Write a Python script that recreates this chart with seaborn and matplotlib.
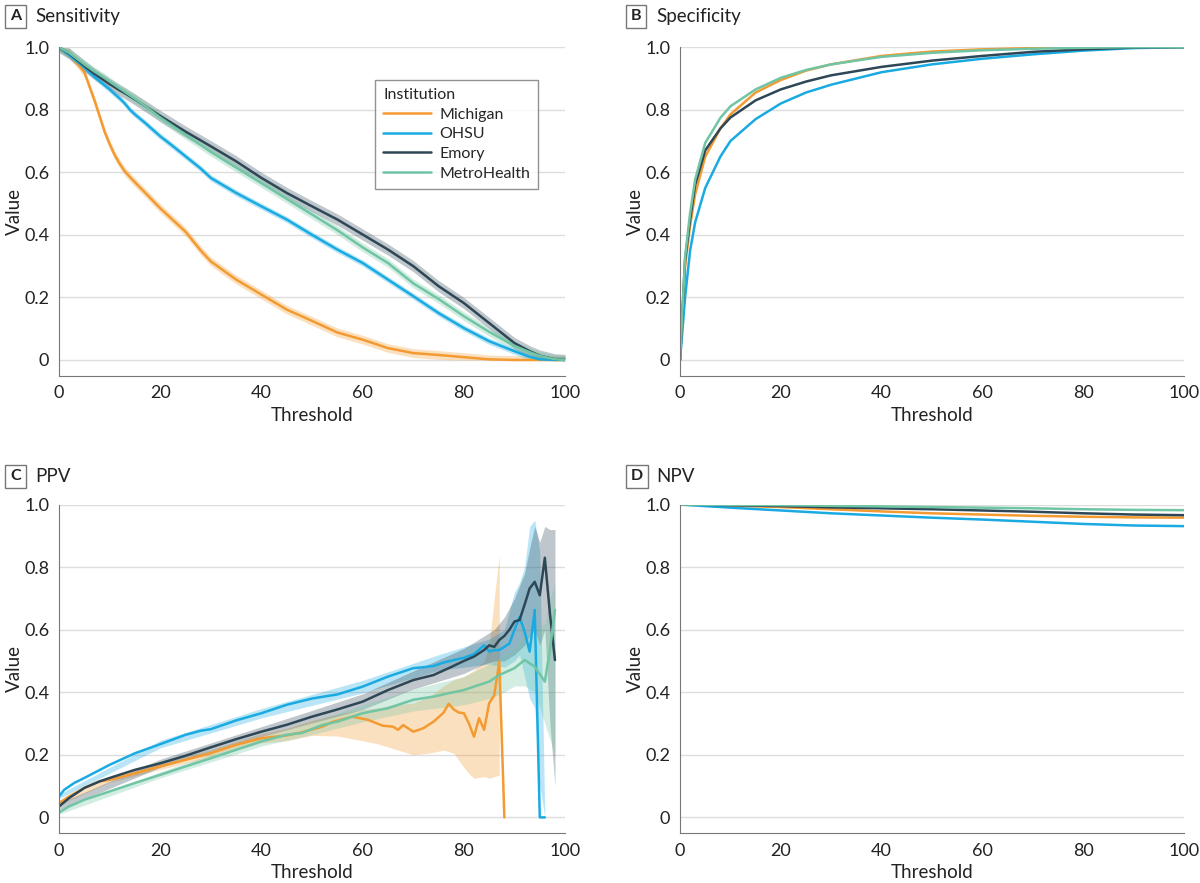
import matplotlib
matplotlib.use("Agg")
import matplotlib.pyplot as plt
import seaborn as sns
import numpy as np
import pandas as pd

institutions = ["Michigan", "OHSU", "Emory", "MetroHealth"]
colors = ["#F39A30", "#1AAAE2", "#2E4756", "#70C5A4"]

# ---- A: sensitivity ----
sens_t = [0, 2, 5, 7, 9, 10, 11, 12, 13, 14, 15, 17, 20, 22, 25, 28, 30, 35, 40, 45, 50, 55, 60, 65, 70, 75,
          80, 85, 90, 93, 95, 98, 100]
sens_mich = [1.0, 0.98, 0.92, 0.83, 0.73, 0.69, 0.655, 0.627, 0.603, 0.585, 0.568, 0.535, 0.485, 0.455, 0.41,
             0.35, 0.315, 0.257, 0.209, 0.161, 0.125, 0.088, 0.065, 0.038, 0.022, 0.016, 0.009, 0.002, 0.0, 0.0,
             0.0, 0.0, 0.0]
sens_ohsu = [1.0, 0.975, 0.935, 0.905, 0.878, 0.865, 0.85, 0.836, 0.82, 0.8, 0.785, 0.758, 0.715, 0.69, 0.651,
             0.612, 0.582, 0.534, 0.491, 0.449, 0.40, 0.353, 0.31, 0.257, 0.204, 0.15, 0.102, 0.06, 0.028, 0.01,
             0.002, 0.0, 0.0]
sens_emory = [1.0, 0.98, 0.94, 0.915, 0.893, 0.882, 0.872, 0.862, 0.853, 0.843, 0.833, 0.812, 0.78, 0.76, 0.73,
              0.702, 0.683, 0.635, 0.582, 0.534, 0.491, 0.449, 0.401, 0.353, 0.30, 0.236, 0.182, 0.118, 0.054,
              0.028, 0.014, 0.002, 0.0]
sens_metro = [1.0, 0.982, 0.945, 0.922, 0.902, 0.89, 0.879, 0.868, 0.857, 0.846, 0.835, 0.812, 0.775, 0.753,
              0.72, 0.687, 0.665, 0.615, 0.565, 0.515, 0.465, 0.415, 0.36, 0.31, 0.245, 0.195, 0.14, 0.09, 0.045,
              0.025, 0.013, 0.002, 0.0]
sens_ci = [0.014, 0.01, 0.018, 0.014]

# ---- B: specificity ----
spec_t = [0, 1, 2, 3, 5, 8, 10, 15, 20, 25, 30, 40, 50, 60, 70, 80, 90, 100]
spec_mich = [0.0, 0.3, 0.43, 0.53, 0.65, 0.74, 0.785, 0.855, 0.895, 0.925, 0.945, 0.972, 0.986, 0.993, 0.997, 0.999, 1.0, 1.0]
spec_ohsu = [0.0, 0.2, 0.35, 0.44, 0.55, 0.65, 0.70, 0.77, 0.82, 0.855, 0.88, 0.92, 0.945, 0.963, 0.977, 0.989, 0.997, 1.0]
spec_emory = [0.0, 0.32, 0.45, 0.56, 0.67, 0.74, 0.775, 0.83, 0.865, 0.89, 0.91, 0.937, 0.957, 0.972, 0.985, 0.993, 0.999, 1.0]
spec_metro = [0.0, 0.33, 0.47, 0.577, 0.694, 0.774, 0.811, 0.865, 0.902, 0.927, 0.945, 0.969, 0.982, 0.99, 0.995, 0.998, 1.0, 1.0]

# ---- C: PPV ----
ppv_mich_t = [0, 2, 5, 8, 10, 15, 20, 25, 30, 35, 40, 45, 48, 52, 54, 58, 61, 64, 66, 67, 68, 70, 72, 74,
              75, 76, 77, 78, 79, 80, 81, 82, 83, 84, 85, 86, 87, 88]
ppv_mich = [0.046, 0.067, 0.094, 0.115, 0.12, 0.141, 0.163, 0.184, 0.205, 0.232, 0.253, 0.262, 0.272, 0.29, 0.305,
            0.322, 0.312, 0.293, 0.29, 0.28, 0.295, 0.274, 0.285, 0.306, 0.32, 0.335, 0.363, 0.345, 0.335, 0.333,
            0.3, 0.258, 0.317, 0.28, 0.365, 0.39, 0.498, 0.0]
ppv_ohsu_t = [0, 1, 3, 5, 10, 15, 20, 25, 28, 30, 35, 40, 45, 50, 55, 60, 65, 70, 72, 74, 76, 78, 80, 82, 84,
              85, 86, 87, 88, 89, 90, 91, 92, 93, 94, 95, 96]
ppv_ohsu = [0.067, 0.088, 0.11, 0.126, 0.168, 0.205, 0.234, 0.264, 0.277, 0.282, 0.31, 0.333, 0.36, 0.38, 0.393,
            0.418, 0.45, 0.477, 0.48, 0.484, 0.495, 0.503, 0.51, 0.522, 0.55, 0.53, 0.535, 0.535, 0.545, 0.556,
            0.6, 0.64, 0.594, 0.53, 0.663, 0.0, 0.0]
ppv_emory_t = [0, 2, 5, 8, 10, 15, 20, 25, 30, 35, 40, 45, 50, 55, 60, 65, 70, 74, 77, 80, 82, 84, 85, 86, 87,
               88, 89, 90, 91, 92, 93, 94, 95, 96, 97, 98]
ppv_emory = [0.035, 0.062, 0.094, 0.115, 0.126, 0.152, 0.173, 0.197, 0.224, 0.25, 0.274, 0.296, 0.322, 0.345,
             0.37, 0.407, 0.439, 0.455, 0.477, 0.5, 0.514, 0.535, 0.55, 0.545, 0.567, 0.58, 0.6, 0.626, 0.631,
             0.68, 0.732, 0.753, 0.71, 0.83, 0.652, 0.503]
ppv_metro_t = [0, 2, 5, 10, 15, 20, 25, 30, 35, 40, 45, 48, 52, 55, 60, 65, 70, 74, 77, 80, 82, 85, 87, 90,
               92, 94, 96, 97, 98]
ppv_metro = [0.016, 0.035, 0.056, 0.083, 0.11, 0.136, 0.163, 0.189, 0.216, 0.243, 0.264, 0.27, 0.295, 0.306,
             0.333, 0.349, 0.376, 0.386, 0.397, 0.407, 0.418, 0.434, 0.455, 0.477, 0.503, 0.482, 0.434, 0.535, 0.663]

# PPV confidence bands
band_mich_t = [0, 10, 20, 30, 40, 45, 50, 55, 60, 63, 66, 70, 73, 76, 78, 80, 81, 82, 84, 85, 86, 87]
band_mich_lo = [0.04, 0.112, 0.153, 0.193, 0.238, 0.245, 0.262, 0.26, 0.245, 0.235, 0.22, 0.2, 0.205, 0.215,
                0.205, 0.16, 0.14, 0.125, 0.13, 0.125, 0.13, 0.135]
band_mich_hi = [0.052, 0.128, 0.173, 0.217, 0.268, 0.285, 0.31, 0.33, 0.345, 0.35, 0.36, 0.365, 0.385, 0.42,
                0.44, 0.45, 0.46, 0.47, 0.5, 0.55, 0.7, 0.84]
band_ohsu_t = [0, 20, 40, 60, 75, 85, 88, 90, 91, 92, 93, 94, 95, 96]
band_ohsu_lo = [0.06, 0.222, 0.318, 0.398, 0.47, 0.49, 0.48, 0.5, 0.52, 0.45, 0.38, 0.35, 0.1, 0.0]
band_ohsu_hi = [0.074, 0.246, 0.348, 0.438, 0.52, 0.57, 0.6, 0.72, 0.75, 0.8, 0.93, 0.95, 0.85, 0.0]
band_emory_t = [0, 20, 40, 50, 60, 70, 80, 84, 86, 88, 90, 92, 93, 94, 95, 96, 97, 98]
band_emory_lo = [0.025, 0.16, 0.258, 0.302, 0.345, 0.41, 0.46, 0.49, 0.5, 0.5, 0.52, 0.55, 0.58, 0.6, 0.55,
                 0.6, 0.3, 0.1]
band_emory_hi = [0.045, 0.186, 0.29, 0.342, 0.395, 0.468, 0.54, 0.58, 0.6, 0.64, 0.7, 0.78, 0.86, 0.93, 0.88,
                 0.93, 0.92, 0.92]
band_metro_t = [0, 20, 40, 50, 60, 70, 80, 85, 88, 90, 92, 94, 96, 97, 98]
band_metro_lo = [0.01, 0.126, 0.228, 0.265, 0.305, 0.34, 0.36, 0.38, 0.4, 0.42, 0.42, 0.4, 0.3, 0.25, 0.2]
band_metro_hi = [0.022, 0.146, 0.258, 0.305, 0.36, 0.41, 0.45, 0.49, 0.52, 0.54, 0.58, 0.6, 0.62, 0.7, 0.75]

# ---- D: NPV ----
npv_t = [0, 10, 20, 30, 40, 50, 60, 70, 80, 90, 100]
npv_mich = [1.0, 0.996, 0.992, 0.985, 0.978, 0.972, 0.968, 0.964, 0.961, 0.959, 0.958]
npv_ohsu = [1.0, 0.99, 0.981, 0.972, 0.965, 0.958, 0.952, 0.945, 0.938, 0.933, 0.931]
npv_emory = [1.0, 0.998, 0.995, 0.991, 0.988, 0.985, 0.981, 0.977, 0.972, 0.968, 0.966]
npv_metro = [1.0, 0.999, 0.998, 0.996, 0.994, 0.992, 0.99, 0.988, 0.985, 0.983, 0.982]


def long_df(ts, vals):
    rows = []
    for inst, t, v in zip(institutions, ts, vals):
        rows.append(pd.DataFrame({"Threshold": t, "Value": v, "Institution": inst}))
    return pd.concat(rows, ignore_index=True)


sns.set_style("white")
plt.rcParams["font.family"] = ["Lato", "DejaVu Sans"]
plt.rcParams["axes.edgecolor"] = "#777777"
plt.rcParams["xtick.color"] = "#777777"
plt.rcParams["ytick.color"] = "#777777"
plt.rcParams["xtick.labelcolor"] = "#222222"
plt.rcParams["ytick.labelcolor"] = "#222222"

fig = plt.figure(figsize=(12, 8.83), dpi=100)
w, h = 0.4217, 0.372
axA = fig.add_axes([0.0492, 0.5746, w, h])
axB = fig.add_axes([0.5667, 0.5746, 0.42, h])
axC = fig.add_axes([0.0492, 0.0566, w, h])
axD = fig.add_axes([0.5667, 0.0566, 0.42, h])

pal = dict(zip(institutions, colors))

# A
dfA = long_df([sens_t] * 4, [sens_mich, sens_ohsu, sens_emory, sens_metro])
for inst, ci in zip(institutions, sens_ci):
    d = dfA[dfA.Institution == inst]
    axA.fill_between(d.Threshold, np.clip(d.Value - ci, 0, 1), np.clip(d.Value + ci, 0, 1),
                     color=pal[inst], alpha=0.3, lw=0)
sns.lineplot(data=dfA, x="Threshold", y="Value", hue="Institution", palette=pal, ax=axA, lw=1.8)

# B
dfB = long_df([spec_t] * 4, [spec_mich, spec_ohsu, spec_emory, spec_metro])
sns.lineplot(data=dfB, x="Threshold", y="Value", hue="Institution", palette=pal, ax=axB, lw=1.8, legend=False)

# C
bands = [(band_mich_t, band_mich_lo, band_mich_hi), (band_ohsu_t, band_ohsu_lo, band_ohsu_hi),
         (band_emory_t, band_emory_lo, band_emory_hi), (band_metro_t, band_metro_lo, band_metro_hi)]
for inst, (bt, lo, hi) in zip(institutions, bands):
    axC.fill_between(bt, lo, hi, color=pal[inst], alpha=0.3, lw=0)
dfC = long_df([ppv_mich_t, ppv_ohsu_t, ppv_emory_t, ppv_metro_t], [ppv_mich, ppv_ohsu, ppv_emory, ppv_metro])
sns.lineplot(data=dfC, x="Threshold", y="Value", hue="Institution", palette=pal, ax=axC, lw=1.8, legend=False)

# D
dfD = long_df([npv_t] * 4, [npv_mich, npv_ohsu, npv_emory, npv_metro])
sns.lineplot(data=dfD, x="Threshold", y="Value", hue="Institution", palette=pal, ax=axD, lw=1.8, legend=False)

for ax in [axA, axB, axC, axD]:
    ax.set_xlim(0, 100)
    ax.set_ylim(-0.05, 1.0)
    ax.set_xticks([0, 20, 40, 60, 80, 100])
    ax.set_yticks([0, 0.2, 0.4, 0.6, 0.8, 1.0])
    ax.set_yticklabels(["0", "0.2", "0.4", "0.6", "0.8", "1.0"])
    ax.yaxis.grid(True, color="#dddddd", lw=1)
    ax.set_axisbelow(True)
    for s in ["top", "right"]:
        ax.spines[s].set_visible(False)
    ax.spines["left"].set_bounds(-0.05, 1.0)
    ax.tick_params(axis="both", length=4, width=1, labelsize=13, direction="out", pad=3)
    ax.set_xlabel("Threshold", fontsize=13.5, color="#222222", labelpad=4)
    ax.set_ylabel("Value", fontsize=13.5, color="#222222", labelpad=1)

leg = axA.legend(title="Institution", loc="upper right", bbox_to_anchor=(0.962, 0.925), frameon=True,
                 fancybox=False, edgecolor="#777777", fontsize=11.5, title_fontsize=11.5,
                 handlelength=3.0, handletextpad=0.5, borderpad=0.5, labelspacing=0.35)
leg._legend_box.align = "left"
leg.get_frame().set_linewidth(1)

labels = [("A", "Sensitivity", 0.0085, 0.9815), ("B", "Specificity", 0.526, 0.9815),
          ("C", "PPV", 0.0085, 0.4605), ("D", "NPV", 0.526, 0.4605)]
for letter, title, x, y in labels:
    fig.text(x, y, letter, fontsize=11.5, fontweight="bold", color="#222222", va="center", ha="left",
             bbox=dict(boxstyle="square,pad=0.3", fc="white", ec="#777777", lw=1))
    fig.text(x + 0.021, y, title, fontsize=13.5, color="#222222", va="center", ha="left")

fig.savefig("out.png", dpi=100)
